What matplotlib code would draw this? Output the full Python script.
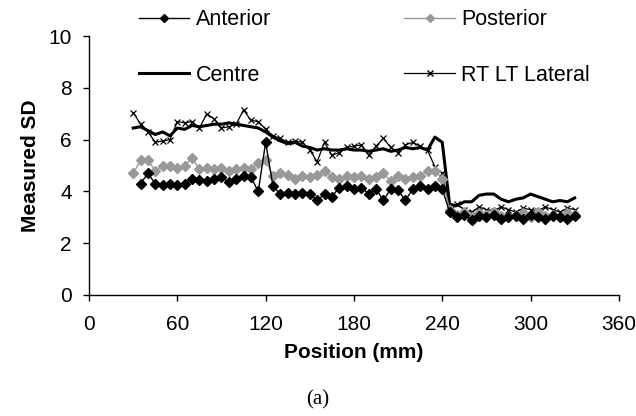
import numpy as np
import matplotlib
matplotlib.use("Agg")
import matplotlib.pyplot as plt
from matplotlib.lines import Line2D

positions = list(range(30, 335, 5))

anterior_positions = list(range(35, 335, 5))
anterior = [4.3, 4.7, 4.3, 4.25, 4.3, 4.25, 4.3, 4.5, 4.45, 4.4, 4.5, 4.55, 4.35, 4.5, 4.6,
            4.55, 4.0, 5.9, 4.2, 3.9, 3.95, 3.9, 3.95, 3.9, 3.65, 3.9, 3.8, 4.15, 4.2, 4.1,
            4.15, 3.9, 4.1, 3.65, 4.1, 4.05, 3.65, 4.1, 4.2, 4.1, 4.2, 4.1, 3.2, 3.0, 3.1,
            2.9, 3.05, 3.0, 3.1, 2.95, 3.0, 3.05, 2.95, 3.1, 3.0, 2.95, 3.05, 3.0, 2.95, 3.05]

posterior = [4.7, 5.2, 5.2, 4.8, 5.0, 5.0, 4.9, 5.0, 5.3, 4.85, 4.9, 4.85, 4.9, 4.8, 4.85,
             4.9, 4.85, 5.1, 5.2, 4.6, 4.7, 4.65, 4.5, 4.6, 4.55, 4.65, 4.8, 4.55, 4.5, 4.6,
             4.55, 4.6, 4.5, 4.55, 4.7, 4.4, 4.6, 4.5, 4.55, 4.6, 4.8, 4.8, 4.5, 3.3, 3.1,
             3.2, 3.0, 3.15, 3.1, 3.2, 3.05, 3.0, 3.1, 3.15, 3.0, 3.2, 3.05, 3.1, 3.0, 3.15, 3.1]

centre = [6.45, 6.5, 6.35, 6.2, 6.3, 6.15, 6.45, 6.4, 6.55, 6.5, 6.55, 6.6, 6.6, 6.65, 6.6,
          6.55, 6.5, 6.45, 6.3, 6.1, 5.95, 5.85, 5.9, 5.75, 5.7, 5.6, 5.65, 5.6, 5.6, 5.65,
          5.6, 5.6, 5.55, 5.6, 5.65, 5.55, 5.6, 5.7, 5.65, 5.7, 5.6, 6.1, 5.9, 3.5, 3.45,
          3.6, 3.6, 3.85, 3.9, 3.9, 3.7, 3.6, 3.7, 3.75, 3.9, 3.8, 3.7, 3.6, 3.65, 3.6, 3.75]

lateral = [7.05, 6.6, 6.3, 5.9, 5.95, 6.0, 6.7, 6.65, 6.7, 6.45, 7.0, 6.8, 6.45, 6.5, 6.6,
           7.15, 6.75, 6.7, 6.4, 6.15, 6.05, 5.9, 5.95, 5.9, 5.6, 5.15, 5.9, 5.4, 5.5, 5.7,
           5.75, 5.8, 5.4, 5.75, 6.05, 5.7, 5.5, 5.8, 5.9, 5.75, 5.6, 4.95, 4.7, 3.3, 3.5,
           3.3, 3.2, 3.4, 3.3, 3.25, 3.4, 3.3, 3.2, 3.35, 3.3, 3.25, 3.4, 3.3, 3.2, 3.35, 3.3]

x_ticks = [0, 60, 120, 180, 240, 300, 360]
y_ticks = [0, 2, 4, 6, 8, 10]

sans = ['Liberation Sans', 'DejaVu Sans']
plt.rcParams['font.family'] = sans

fig = plt.figure(figsize=(6.36, 4.16), dpi=100)
ax = fig.add_axes([0.14, 0.291, 0.833, 0.622])

grey = '#999999'
ax.plot(positions, lateral, color='black', lw=0.9, marker='x', ms=5, mew=0.9)
ax.plot(positions, centre, color='black', lw=2.2)
ax.plot(positions, posterior, color=grey, lw=1, marker='D', ms=5.5, mec=grey, mfc=grey)
ax.plot(anterior_positions, anterior, color='black', lw=1, marker='D', ms=5.5)

ax.set_xlim(0, 360)
ax.set_ylim(0, 10)
ax.set_xticks(x_ticks)
ax.set_yticks(y_ticks)
ax.tick_params(direction='out', length=4.5, width=1, labelsize=15)
ax.tick_params(axis='x', pad=10)
ax.tick_params(axis='y', pad=8)
for s in ['top', 'right']:
    ax.spines[s].set_visible(False)
for s in ['left', 'bottom']:
    ax.spines[s].set_linewidth(1)
ax.set_xlabel('Position (mm)', fontsize=15, fontweight='bold')
ax.set_ylabel('Measured SD', fontsize=15, fontweight='bold')
ax.xaxis.set_label_coords(0.5, -0.224)
ax.xaxis.label.set_va('center')
ax.yaxis.set_label_coords(-0.111, 0.5)
ax.yaxis.label.set_va('center')

h_ant = Line2D([], [], color='black', lw=1, marker='D', ms=4)
h_cen = Line2D([], [], color='black', lw=2.2)
h_post = Line2D([], [], color=grey, lw=1, marker='D', ms=4, mec=grey, mfc=grey)
h_lat = Line2D([], [], color='black', lw=0.9, marker='x', ms=4)
fig.legend([h_ant, h_cen, h_post, h_lat], ['Anterior', 'Centre', 'Posterior', 'RT LT Lateral'],
           ncol=2, frameon=False, loc='upper left', bbox_to_anchor=(0.218, 0.978),
           fontsize=15.5, handlelength=2.35, handletextpad=0.3, labelspacing=1.6,
           columnspacing=6.2, borderpad=0, borderaxespad=0)

fig.text(0.5, 0.038, '(a)', ha='center', va='center', fontsize=15,
         family=['Liberation Serif', 'DejaVu Serif'])

fig.savefig('out.png', dpi=100)
